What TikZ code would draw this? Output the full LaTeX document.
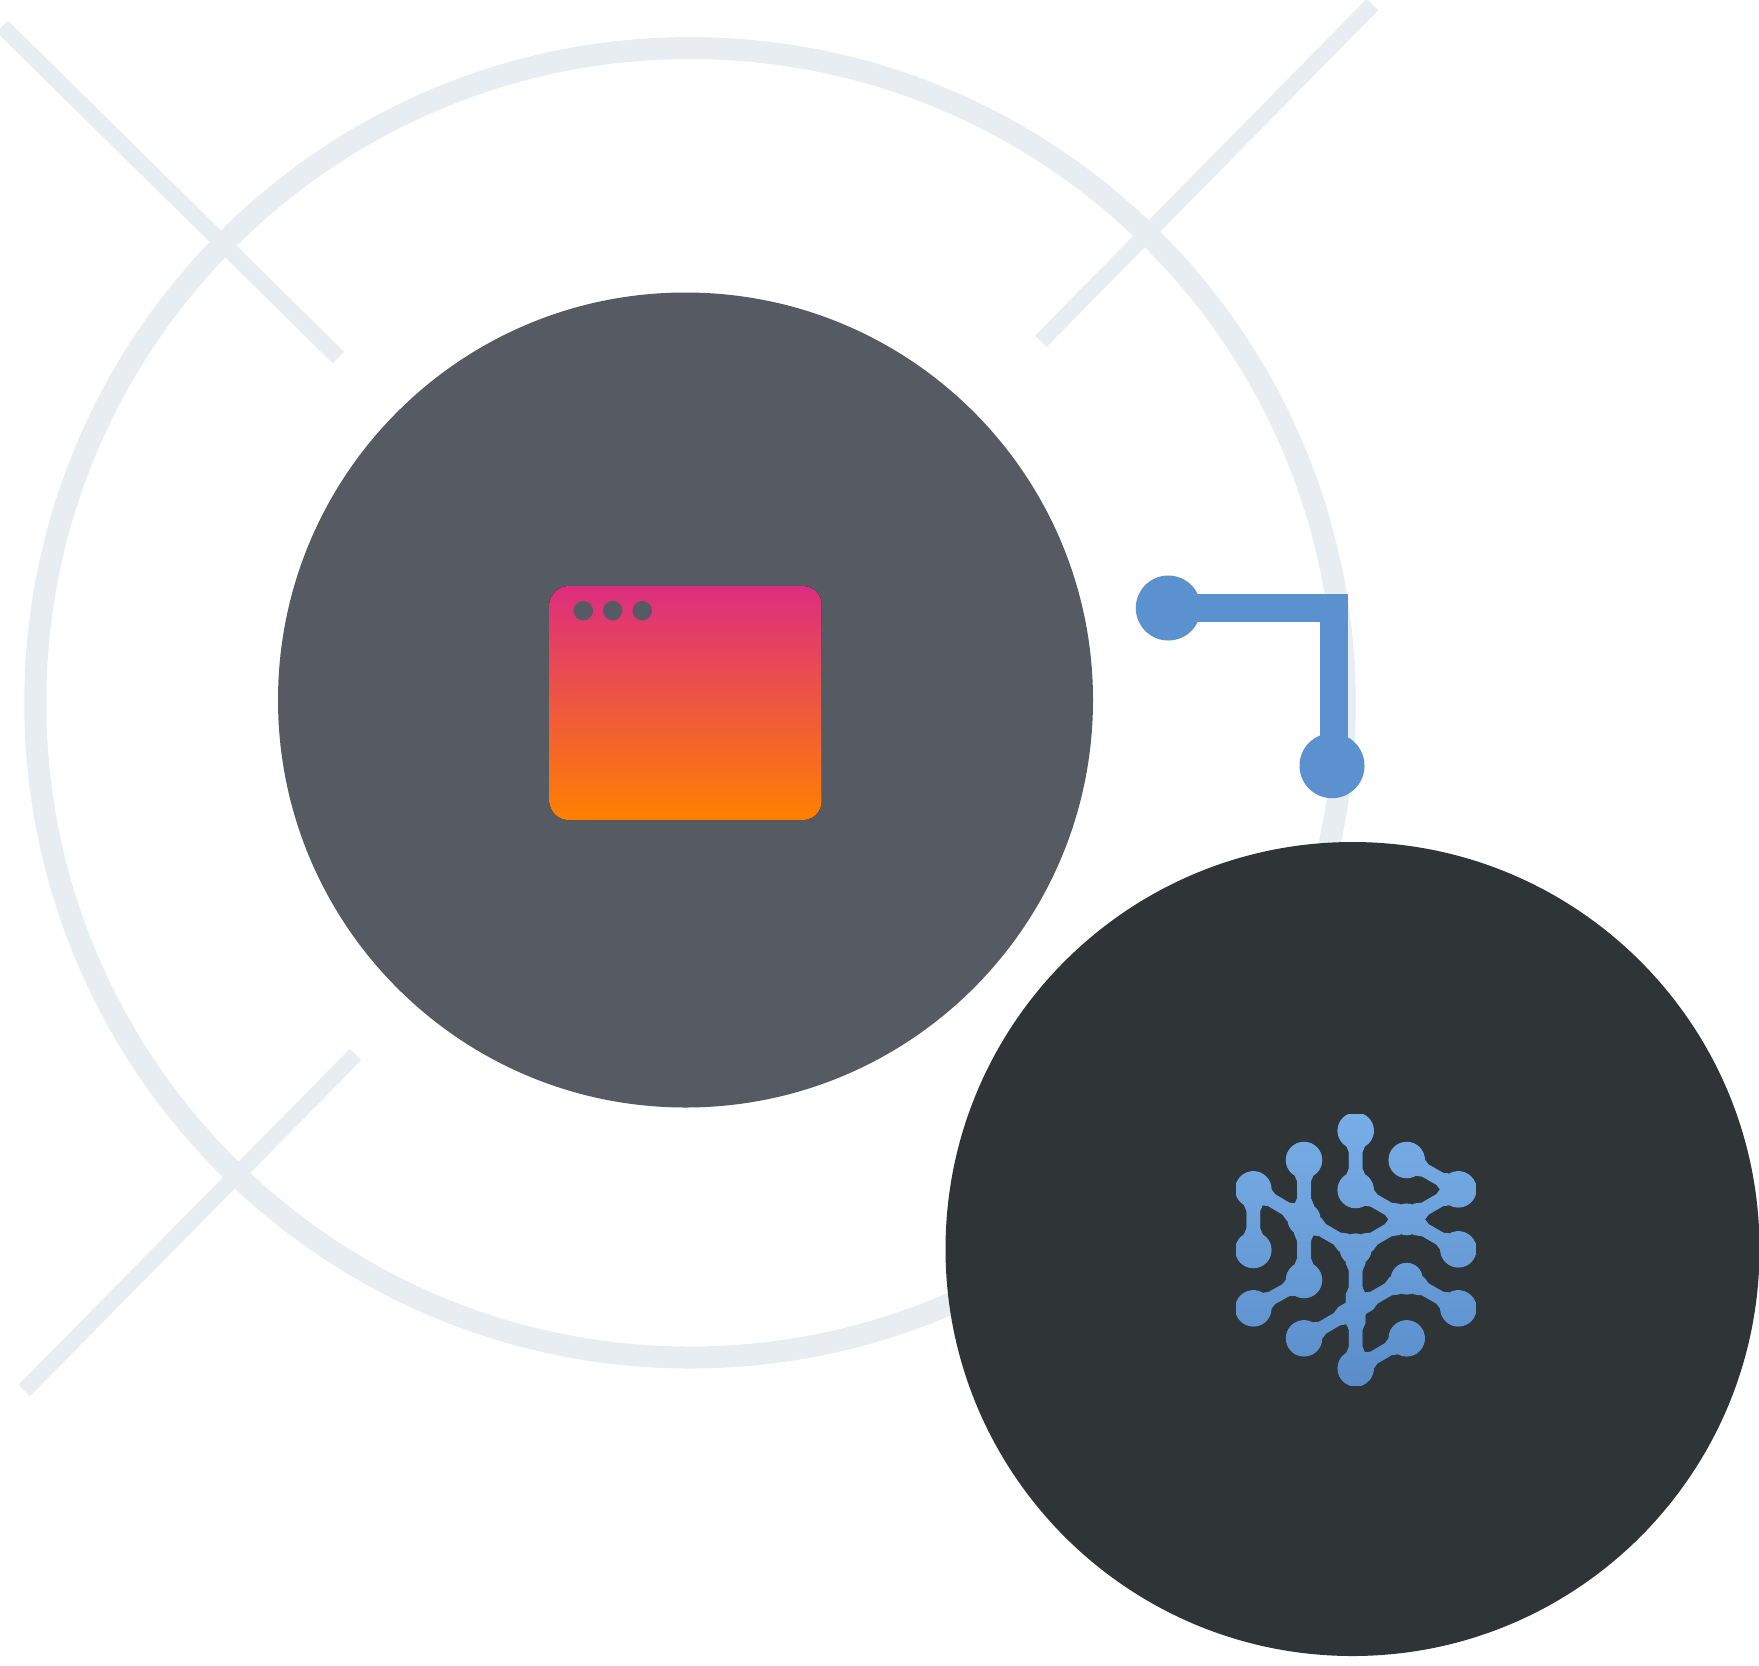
\documentclass[tikz,border=0pt]{standalone}
\definecolor{ringc}{HTML}{E8EDF1}
\definecolor{grayc}{HTML}{565A62}
\definecolor{darkc}{HTML}{2F3437}
\definecolor{bluec}{HTML}{5B91CE}
\definecolor{icontop}{HTML}{78AEE8}
\definecolor{iconbot}{HTML}{5A8DC9}
\definecolor{wintop}{HTML}{DC2D80}
\definecolor{winbot}{HTML}{FF8000}
\tikzset{
  spoke/.style={draw=ringc,line width=8.1pt,line cap=butt},
  bigdisc/.style={circle,inner sep=0pt,minimum size=407.5pt},
  bluedot/.style={circle,inner sep=0pt,minimum size=32.5pt,fill=bluec},
  windot/.style={circle,inner sep=0pt,minimum size=9.7pt,fill=grayc},
  link/.style={draw=bluec,line width=13.6pt,line join=miter},
}
% icon outline built as one path of same-orientation pieces, so it can clip a shading.
% Each edge is a slightly waisted polygon, flaring where it meets a dot.
\def\iconpath{}
\newcommand\addpt[3]{% t along edge, signed half width
  \pgfmathsetmacro\px{\eax+#1*\edx*100+#2*\ux}%
  \pgfmathsetmacro\py{\eay+#1*\edy*100+#2*\uy}%
  \xdef\iconpath{\iconpath #3 (\px,\py)}}
\newcommand\addedge[4]{%
  \pgfmathsetmacro\eax{#1}\pgfmathsetmacro\eay{#2}%
  \pgfmathsetmacro\edx{(#3-#1)/100}\pgfmathsetmacro\edy{(#4-#2)/100}%
  \pgfmathsetmacro\elen{sqrt(\edx*\edx+\edy*\edy)}%
  \pgfmathsetmacro\ux{-\edy/\elen}\pgfmathsetmacro\uy{\edx/\elen}%
  \addpt{0}{-30}{}\addpt{.24}{-30}{--}\addpt{.36}{-21}{--}\addpt{.64}{-21}{--}\addpt{.76}{-30}{--}\addpt{1}{-30}{--}%
  \addpt{1}{30}{--}\addpt{.76}{30}{--}\addpt{.64}{21}{--}\addpt{.36}{21}{--}\addpt{.24}{30}{--}\addpt{0}{30}{--}%
  \xdef\iconpath{\iconpath -- cycle }}
\newcommand\adddot[3]{\xdef\iconpath{\iconpath (#1,#2) circle (#3) }}
\addedge{467}{122}{467}{300}
\addedge{312}{210}{312}{388}
\addedge{312}{388}{312}{570}
\addedge{160}{298}{160}{480}
\addedge{160}{298}{312}{388}
\addedge{312}{388}{467}{478}
\addedge{467}{478}{620}{388}
\addedge{620}{388}{775}{298}
\addedge{775}{298}{620}{210}
\addedge{467}{300}{620}{388}
\addedge{620}{388}{775}{478}
\addedge{312}{570}{160}{655}
\addedge{467}{478}{467}{655}
\addedge{467}{655}{467}{835}
\addedge{467}{835}{620}{745}
\addedge{312}{745}{467}{655}
\addedge{467}{655}{620}{566}
\addedge{620}{566}{775}{655}
\adddot{467}{122}{55}\adddot{467}{300}{55}\adddot{312}{210}{55}
\adddot{160}{298}{55}\adddot{160}{480}{55}\adddot{312}{570}{55}
\adddot{160}{655}{55}\adddot{312}{745}{55}\adddot{467}{835}{55}
\adddot{620}{745}{55}\adddot{620}{566}{48}\adddot{775}{655}{55}
\adddot{775}{478}{55}\adddot{775}{298}{55}\adddot{620}{210}{55}
\adddot{312}{388}{50}\adddot{467}{478}{48}\adddot{620}{388}{48}\adddot{467}{655}{36}
\begin{document}
\begin{tikzpicture}[x=0.5pt,y=-0.5pt]
  \useasboundingbox (0,0) rectangle (1759,1665);
  % ring
  \node[circle,draw=ringc,line width=11pt,inner sep=0pt,minimum size=654.7pt] (ring) at (690,702.8) {};
  % spokes
  \coordinate (tl1) at (2.3,26.4);   \coordinate (tl2) at (338.4,357.5);
  \coordinate (tr1) at (1372.5,4.5); \coordinate (tr2) at (1040.8,341.3);
  \coordinate (bl1) at (355.5,1054.5); \coordinate (bl2) at (24.2,1390.5);
  \draw[spoke] (tl1) -- (tl2);
  \draw[spoke] (tr1) -- (tr2);
  \draw[spoke] (bl1) -- (bl2);
  % grey disc with window
  \node[bigdisc,fill=grayc] (app) at (685.5,700) {};
  \fill[top color=wintop,bottom color=winbot,rounded corners=9.5pt] (549.5,586) rectangle (821.7,820);
  \node[windot] (d1) at (583.3,610.7) {};
  \node[windot] (d2) at (612.7,610.7) {};
  \node[windot] (d3) at (642.3,610.7) {};
  % connector
  \coordinate (corner) at (1334,608);
  \node[bluedot] (c1) at (1168.3,608) {};
  \node[bluedot] (c2) at (1332,765.7) {};
  \draw[link] (c1.center) -- (corner) -- (corner |- c2.center);
  % dark disc with icon
  \node[bigdisc,fill=darkc,minimum size=407pt] (brain) at (1352.5,1249) {};
  \begin{scope}[shift={(1200,1090)},x=0.166667pt,y=-0.166667pt]
    \clip \iconpath;
    \fill[top color=icontop,bottom color=iconbot] (108,72) rectangle (827,885);
  \end{scope}
\end{tikzpicture}
\end{document}
